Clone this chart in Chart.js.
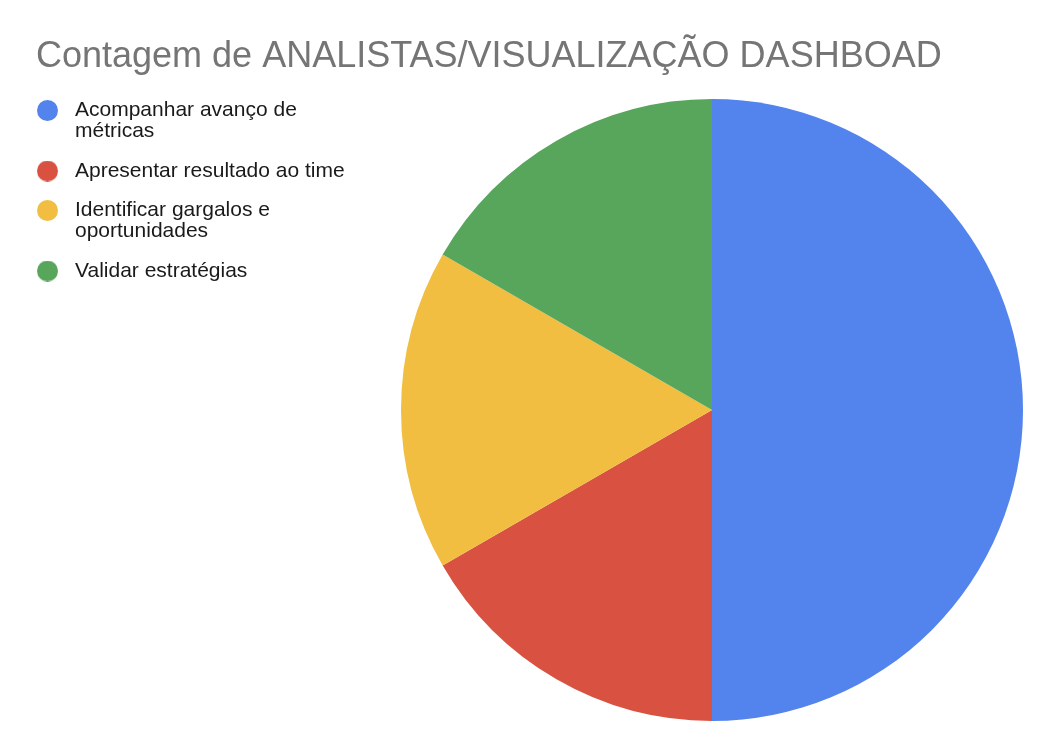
<!DOCTYPE html>
<html>
<head>
<meta charset="utf-8">
<script src="https://cdn.jsdelivr.net/npm/chart.js@4"></script>
<style>
  html, body { margin: 0; padding: 0; background: #ffffff; }
  #wrap { position: relative; width: 1058px; height: 756px; }
</style>
</head>
<body>
<div id="wrap"><canvas id="c" width="1058" height="756"></canvas></div>
<script>
// ---- data ----
const chartTitle = 'Contagem de ANALISTAS/VISUALIZAÇÃO DASHBOAD';
const categories = [
  'Acompanhar avanço de métricas',
  'Apresentar resultado ao time',
  'Identificar gargalos e oportunidades',
  'Validar estratégias'
];
const counts = [3, 1, 1, 1];
const sliceColors = ['#5383EC', '#D95140', '#F1BE41', '#58A65C'];

// ---- styling / layout constants ----
const FONT_FAMILY = '"Liberation Sans", Arial, Helvetica, sans-serif';
const LEGEND_FONT_SIZE = 21;
const LEGEND_WRAP = 285;
const LEGEND_POS = { left: 12, top: 81.5, drawWidth: 370 };

function wrapLabel(text, maxW) {
  const m = document.createElement('canvas').getContext('2d');
  m.font = LEGEND_FONT_SIZE + 'px ' + FONT_FAMILY;
  const words = text.split(' ');
  const lines = [];
  let cur = '';
  for (const w of words) {
    const test = cur ? cur + ' ' + w : w;
    if (cur && m.measureText(test).width > maxW) { lines.push(cur); cur = w; }
    else cur = test;
  }
  if (cur) lines.push(cur);
  return lines;
}

function circleImage(color) {
  const d = 21;
  const cv = document.createElement('canvas');
  cv.width = d; cv.height = d;
  const g = cv.getContext('2d');
  g.fillStyle = color;
  g.beginPath();
  g.arc(d / 2, d / 2, d / 2, 0, Math.PI * 2);
  g.fill();
  return cv;
}

const legendPlacer = {
  id: 'legendPlacer',
  afterLayout(chart) {
    const lg = chart.legend;
    if (!lg) return;
    const h = lg.height;
    lg.left = LEGEND_POS.left; lg.right = LEGEND_POS.left + LEGEND_POS.drawWidth;
    lg.top = LEGEND_POS.top; lg.bottom = LEGEND_POS.top + h;
  }
};

new Chart(document.getElementById('c'), {
  type: 'pie',
  data: {
    labels: categories,
    datasets: [{
      data: counts,
      backgroundColor: sliceColors,
      borderWidth: 0
    }]
  },
  plugins: [legendPlacer],
  options: {
    responsive: false,
    animation: false,
    layout: { padding: { top: 0, left: 36, right: 0, bottom: 35 } },
    plugins: {
      tooltip: { enabled: false },
      title: {
        display: true,
        text: chartTitle,
        align: 'start',
        color: '#757575',
        font: { family: FONT_FAMILY, size: 36, weight: 'normal', lineHeight: 1.2 },
        padding: { top: 35, bottom: 20.8 }
      },
      legend: {
        display: true,
        position: 'left',
        align: 'start',
        fullSize: false,
        maxWidth: 330,
        labels: {
          usePointStyle: true,
          pointStyleWidth: 34,
          padding: 18.5,
          color: '#1a1a1a',
          font: { family: FONT_FAMILY, size: LEGEND_FONT_SIZE, lineHeight: '21px' },
          generateLabels(chart) {
            const ds = chart.data.datasets[0];
            return chart.data.labels.map((lab, i) => ({
              text: wrapLabel(lab, LEGEND_WRAP),
              fillStyle: ds.backgroundColor[i],
              strokeStyle: ds.backgroundColor[i],
              fontColor: '#1a1a1a',
              lineWidth: 0,
              pointStyle: circleImage(ds.backgroundColor[i]),
              hidden: false,
              index: i
            }));
          }
        }
      }
    }
  }
});
</script>
</body>
</html>
